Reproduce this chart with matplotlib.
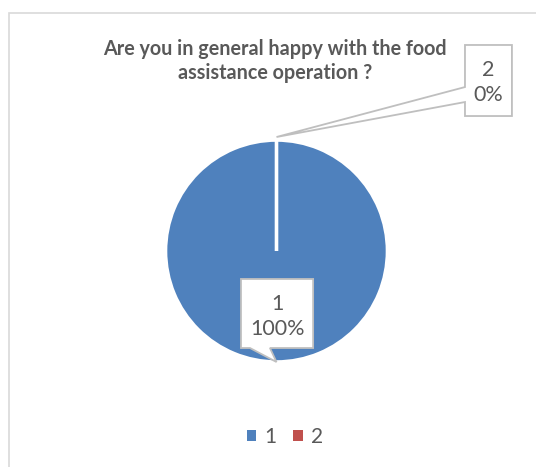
import matplotlib.pyplot as plt
from matplotlib.patches import Polygon
import numpy as np

# data
categories = ['1', '2']
values = [100, 0]
pct_labels = ['100%', '0%']
title = 'Are you in general happy with the food\nassistance operation ?'

colors = ['#4F81BD', '#C0504D']
txt = '#595959'
plt.rcParams['font.family'] = ['Lato', 'DejaVu Sans']

W, H = 536, 467
fig = plt.figure(figsize=(W / 100, H / 100), dpi=100)

# chart border
fig.patches.append(plt.Rectangle((8.5 / W, -0.1), 1.2, 1 - 12.5 / H + 0.1,
                                 transform=fig.transFigure, fill=False,
                                 edgecolor='#D9D9D9', lw=1.2))

# pie
cx, cy, r = 276.5, 251, 111
ax = fig.add_axes([(cx - r) / W, (H - cy - r) / H, 2 * r / W, 2 * r / H])
wedges, _ = ax.pie(values, colors=colors, startangle=90, counterclock=False,
                   wedgeprops=dict(edgecolor='white', linewidth=2.6))
ax.set_xlim(-1, 1)
ax.set_ylim(-1, 1)
ax.set_axis_off()

fig.text(275 / W, 1 - 61 / H, title, ha='center', va='center', fontsize=14.2,
         fontweight='bold', color=txt, linespacing=1.2)


def callout(box, base, tip):
    # box = (x0, x1, y0, y1) in data units, base = pointer attach points
    x0, x1, y0, y1 = box
    if base[0] == 'bottom':
        b0, b1 = base[1], base[2]
        pts = [(x0, y1), (x1, y1), (x1, y0), (b1, y0), tip, (b0, y0), (x0, y0)]
    else:
        b0, b1 = base[1], base[2]
        pts = [(x0, y1), (x1, y1), (x1, y0), (x0, y0), (x0, b0), tip, (x0, b1)]
    ax.add_patch(Polygon(pts, closed=True, facecolor='white',
                         edgecolor='#BFBFBF', lw=1.3, clip_on=False, zorder=5))


# slice anchors from wedge geometry
for i, w in enumerate(wedges):
    mid = np.deg2rad((w.theta1 + w.theta2) / 2)
    ax_pt = (np.cos(mid), np.sin(mid))
    if i == 0:
        callout((-0.32, 0.33, -0.874, -0.252), ('bottom', -0.239, -0.059),
                (ax_pt[0], ax_pt[1]))
        tx, ty = 0.005, -0.59
    else:
        callout((1.698, 2.121, 1.216, 1.856), ('left', 1.342, 1.477),
                (ax_pt[0], ax_pt[1] + 0.027))
        tx, ty = 1.91, 1.52
    ax.text(tx, ty, categories[i] + '\n' + pct_labels[i], ha='center',
            va='center', fontsize=15.5, color=txt, linespacing=1.3,
            zorder=6, clip_on=False)

leg = fig.legend(wedges, categories, loc='center', ncol=2,
                 bbox_to_anchor=(285 / W, 1 - 437 / H), frameon=False,
                 fontsize=15, handlelength=0.45, handleheight=0.45,
                 handletextpad=0.4, columnspacing=0.8, labelcolor=txt)
for h in leg.legend_handles:
    h.set_edgecolor('none')

fig.savefig('out.png', dpi=100)
